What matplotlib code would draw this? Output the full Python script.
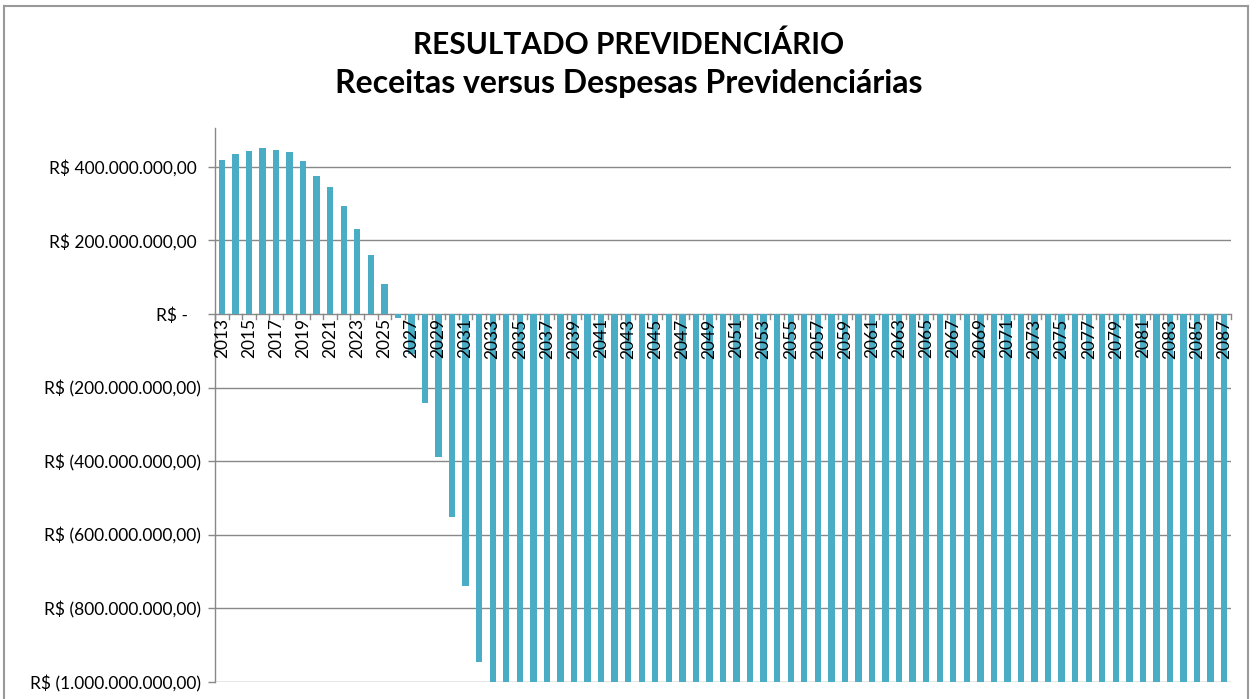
import matplotlib
matplotlib.use("Agg")
import matplotlib.pyplot as plt
from matplotlib.lines import Line2D

# ---- data (R$ millions) ----
years = list(range(2013, 2088))
resultado_mi = [
    419, 435, 443, 450, 446, 439, 415, 375, 345, 294, 231, 160, 82,   # 2013-2025
    -12, -110, -242, -389, -552, -739, -946,                          # 2026-2032
    -1130, -1310, -1480, -1640, -1790, -1930, -2060, -2180, -2290, -2390,  # 2033-2042
    -2480, -2560, -2630, -2690, -2740, -2790, -2830, -2870, -2900, -2930,  # 2043-2052
    -2960, -2980, -3000, -3020, -3040, -3060, -3080, -3100, -3120, -3140,  # 2053-2062
    -3160, -3180, -3200, -3220, -3240, -3260, -3280, -3300, -3320, -3340,  # 2063-2072
    -3360, -3380, -3400, -3420, -3440, -3460, -3480, -3500, -3520, -3540,  # 2073-2082
    -3560, -3580, -3600, -3620, -3640,                                   # 2083-2087
]
title_lines = ["RESULTADO PREVIDENCIÁRIO", "Receitas versus Despesas Previdenciárias"]
ytick_values_mi = [400, 200, 0, -200, -400, -600, -800, -1000]

values = [v * 1e6 for v in resultado_mi]

plt.rcParams['font.family'] = ['Lato', 'DejaVu Sans']

W, H = 1256, 699
fig = plt.figure(figsize=(W / 100, H / 100), dpi=100)
fig.patch.set_facecolor('white')

# axes placement in pixels
left, right, top, bottom = 215, 1231, 128, 682
ax = fig.add_axes([left / W, (H - bottom) / H, (right - left) / W, (bottom - top) / H])

bar_color = '#4BACC6'
grid_color = '#888888'
x = list(range(len(years)))
ax.bar(x, values, width=0.47, color=bar_color, zorder=2)

ax.set_xlim(-0.5, len(years) - 0.5)
ax.set_ylim(-1000e6, 505e6)

# gridlines
for v in ytick_values_mi:
    ax.axhline(v * 1e6, color=grid_color, lw=1.0, zorder=1)

ax.set_yticks([v * 1e6 for v in ytick_values_mi])

def fmt(v):
    if v == 0:
        return "R$ -   "
    s = f"{abs(v) * 1e6:,.2f}".replace(",", "X").replace(".", ",").replace("X", ".")
    if v < 0:
        return f"R$ ({s})"
    return f"R$ {s} "

ax.set_yticklabels([fmt(v) for v in ytick_values_mi], fontsize=12.5, color='#000000')
ax.tick_params(axis='y', length=5, width=1, color=grid_color, pad=5)

# x-axis: no standard labels; draw ticks along zero line
ax.set_xticks([])
for spine in ['top', 'right', 'bottom']:
    ax.spines[spine].set_visible(False)
ax.spines['left'].set_color(grid_color)
ax.spines['left'].set_linewidth(1.0)

# tick marks between categories at zero line
for i in range(len(years) + 1):
    xi = i - 0.5
    ax.plot([xi, xi], [0, -14e6], color=grid_color, lw=1.0, zorder=3, clip_on=False)

# year labels every other year, rotated
for i, yr in enumerate(years):
    if i % 2 == 0:
        ax.text(i, -12e6, str(yr), rotation=90, ha='center', va='top',
                fontsize=12.5, color='#000000', zorder=4)

# titles
fig.text(629 / W, 1 - 45 / H, title_lines[0], ha='center', va='center',
         fontsize=21.5, fontweight='bold', color='#000000')
fig.text(629 / W, 1 - 84 / H, title_lines[1], ha='center', va='center',
         fontsize=23, fontweight='bold', color='#000000')

# chart border (bottom cut off)
border_color = '#999999'
bx0, bx1, by0 = 4, 1248, 6
fig.add_artist(Line2D([bx0 / W, bx0 / W], [0, 1 - by0 / H], transform=fig.transFigure, color=border_color, lw=1.5))
fig.add_artist(Line2D([bx1 / W, bx1 / W], [0, 1 - by0 / H], transform=fig.transFigure, color=border_color, lw=1.5))
fig.add_artist(Line2D([bx0 / W, bx1 / W], [1 - by0 / H, 1 - by0 / H], transform=fig.transFigure, color=border_color, lw=1.5))

fig.savefig('out.png', dpi=100)
